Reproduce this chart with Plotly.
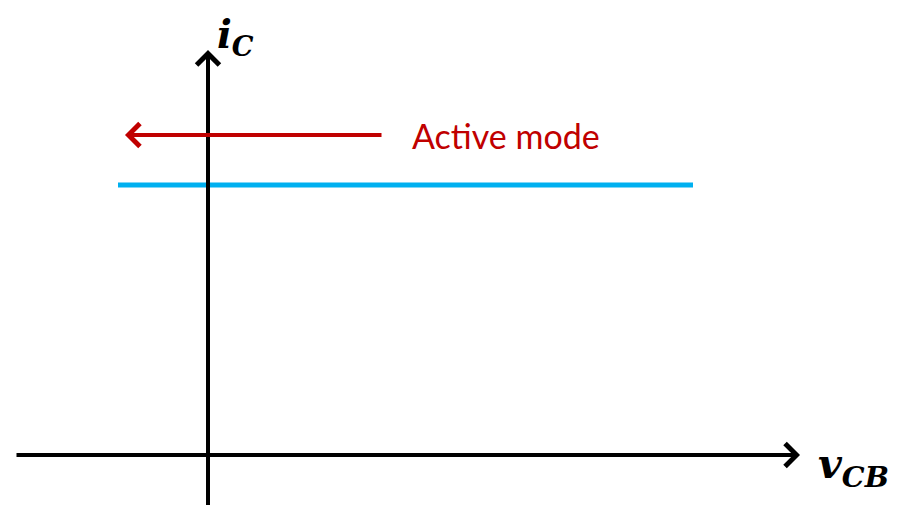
import plotly.graph_objects as go

# Schematic values (data units: origin at axes intersection)
vcb_axis = [-193, 592]        # horizontal axis extent (tip at right)
ic_axis = [-60, 405]          # vertical axis extent (tip at top)
vcb_line = [-90, 485]         # cyan characteristic line extent
ic_level = [270, 270]         # constant collector current
active_arrow_x = [175, -83]   # red arrow from -> to
active_arrow_y = 320
active_label = "Active mode"
x_label = "<b><i>v</i></b><sub><b><i>CB</i></b></sub>"
y_label = "<b><i>i</i></b><sub><b><i>C</i></b></sub>"

fig = go.Figure()

# cyan line
fig.add_trace(go.Scatter(x=vcb_line, y=ic_level, mode="lines",
                         line=dict(color="#00B0F0", width=5),
                         hoverinfo="skip", showlegend=False))

BLACK = "#000000"
RED = "#C00000"

# horizontal axis arrow
fig.add_annotation(x=vcb_axis[1], y=0, ax=vcb_axis[0], ay=0,
                   xref="x", yref="y", axref="x", ayref="y",
                   text="", showarrow=True, arrowhead=4, arrowsize=1.1,
                   arrowwidth=4, arrowcolor=BLACK)
# vertical axis arrow
fig.add_annotation(x=0, y=ic_axis[1], ax=0, ay=ic_axis[0],
                   xref="x", yref="y", axref="x", ayref="y",
                   text="", showarrow=True, arrowhead=4, arrowsize=1.1,
                   arrowwidth=4, arrowcolor=BLACK)
# red active mode arrow
fig.add_annotation(x=active_arrow_x[1], y=active_arrow_y,
                   ax=active_arrow_x[0], ay=active_arrow_y,
                   xref="x", yref="y", axref="x", ayref="y",
                   text="", showarrow=True, arrowhead=4, arrowsize=1.1,
                   arrowwidth=4, arrowcolor=RED)

fig.add_annotation(x=202, y=active_arrow_y, text=active_label, showarrow=False,
                   xanchor="left", yanchor="middle",
                   font=dict(family="Lato, Open Sans, sans-serif", size=34, color=RED))

fig.add_annotation(x=7, y=391, text=y_label, showarrow=False,
                   xanchor="left", yanchor="bottom",
                   font=dict(family="DejaVu Serif", size=39, color=BLACK))
fig.add_annotation(x=608, y=-12, text=x_label, showarrow=False,
                   xanchor="left", yanchor="middle",
                   font=dict(family="DejaVu Serif", size=41, color=BLACK))

# the page body adds an 8px offset, so the view is shifted by that amount
fig.update_layout(width=897, height=505, margin=dict(l=0, r=0, t=0, b=0),
                  paper_bgcolor="white", plot_bgcolor="white",
                  xaxis=dict(range=[-200, 697], visible=False, fixedrange=True),
                  yaxis=dict(range=[-58, 447], visible=False, fixedrange=True),
                  showlegend=False)

fig.write_html("out.html")
